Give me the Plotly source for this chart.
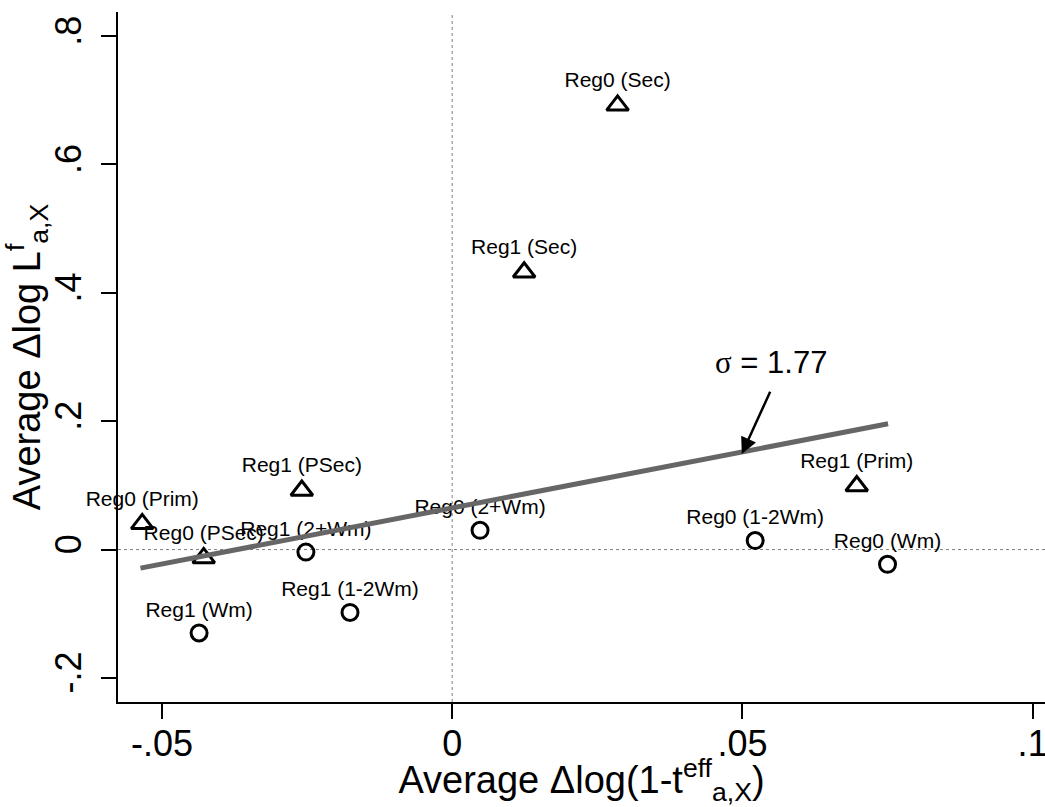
import plotly.graph_objects as go

# ---- data ----
tri_labels = ["Reg0 (Sec)", "Reg1 (Sec)", "Reg1 (PSec)", "Reg0 (Prim)", "Reg0 (PSec)", "Reg1 (Prim)"]
tri_x = [0.0285, 0.0124, -0.0259, -0.0534, -0.0428, 0.0697]
tri_y = [0.692, 0.432, 0.092, 0.040, -0.013, 0.099]

circ_labels = ["Reg1 (2+Wm)", "Reg1 (1-2Wm)", "Reg1 (Wm)", "Reg0 (2+Wm)", "Reg0 (1-2Wm)", "Reg0 (Wm)"]
circ_x = [-0.0252, -0.0176, -0.0436, 0.0048, 0.0522, 0.0750]
circ_y = [-0.004, -0.098, -0.130, 0.030, 0.014, -0.023]

fit_x = [-0.0537, 0.0751]
fit_y = [-0.029, 0.196]

sigma_text = "σ = 1.77"
arrow_head = (0.0499, 0.149)
arrow_tail = (0.0549, 0.248)
sigma_pos = (0.0549, 0.292)

x_ticks = [-0.05, 0, 0.05, 0.1]
x_ticktext = ["-.05", "0", ".05", ".1"]
y_ticks = [-0.2, 0, 0.2, 0.4, 0.6, 0.8]
y_ticktext = ["-.2", "0", ".2", ".4", ".6", ".8"]

FONT = "Liberation Sans, Arial, Helvetica, sans-serif"

fig = go.Figure()

fig.add_trace(go.Scatter(
    x=tri_x, y=tri_y, mode="markers+text", text=tri_labels,
    textposition="top center", textfont=dict(family=FONT, size=21, color="black"),
    marker=dict(symbol="triangle-up-open", size=19, color="black", line=dict(width=3, color="black")),
    cliponaxis=False, showlegend=False, hoverinfo="skip"))

fig.add_trace(go.Scatter(
    x=circ_x, y=circ_y, mode="markers+text", text=circ_labels,
    textposition="top center", textfont=dict(family=FONT, size=21, color="black"),
    marker=dict(symbol="circle-open", size=16, color="black", line=dict(width=3, color="black")),
    cliponaxis=False, showlegend=False, hoverinfo="skip"))

fig.add_trace(go.Scatter(
    x=fit_x, y=fit_y, mode="lines", line=dict(color="#666666", width=5),
    showlegend=False, hoverinfo="skip"))

fig.add_hline(y=0, line=dict(color="#808080", width=1, dash="dot"), layer="below")
fig.add_vline(x=0, line=dict(color="#808080", width=1, dash="dot"), layer="below")

fig.add_annotation(x=arrow_head[0], y=arrow_head[1], ax=arrow_tail[0], ay=arrow_tail[1],
                   axref="x", ayref="y", xref="x", yref="y", text="", showarrow=True,
                   arrowhead=2, arrowsize=1.3, arrowwidth=2.5, arrowcolor="black")
fig.add_annotation(x=sigma_pos[0], y=sigma_pos[1], xref="x", yref="y",
                   text='<span style="font-family:Liberation Serif, Times New Roman, serif">σ</span>' + sigma_text[1:],
                   showarrow=False, font=dict(family=FONT, size=31, color="black"))

axis_common = dict(showgrid=False, zeroline=False, showline=True, linecolor="black", linewidth=2,
                   ticks="outside", ticklen=15, tickwidth=2, tickcolor="black",
                   tickfont=dict(family=FONT, size=36, color="black"), ticklabeloverflow="allow")

fig.update_xaxes(range=[-0.05757, 0.10213], tickvals=x_ticks, ticktext=x_ticktext,
                 ticklabelstandoff=-6,
                 title=dict(text="Average Δlog(1-t<sup>eff</sup><sub>a,X</sub>)",
                            font=dict(family=FONT, size=38, color="black"), standoff=8),
                 automargin=False, **axis_common)
fig.update_yaxes(range=[-0.2375, 0.8374], tickvals=y_ticks, ticktext=y_ticktext, tickangle=-90,
                 ticklabelstandoff=6,
                 title=dict(text="Average Δlog L<sup>f</sup><sub>a,X</sub>",
                            font=dict(family=FONT, size=38, color="black"), standoff=2),
                 automargin=False, **axis_common)

fig.update_layout(width=1045, height=807, margin=dict(l=118, r=0, t=12, b=105),
                  plot_bgcolor="white", paper_bgcolor="white", showlegend=False)

fig.write_html("out.html", config={"displayModeBar": False},
               post_script="document.body.style.margin='0px';")
